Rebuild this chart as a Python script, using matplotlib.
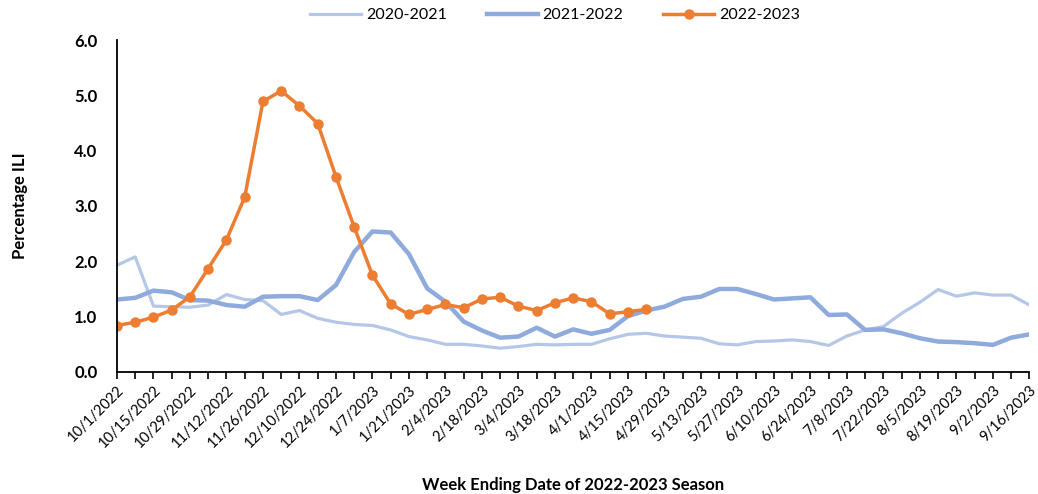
import numpy as np
import pandas as pd
import matplotlib
matplotlib.use("Agg")
import matplotlib.pyplot as plt

plt.rcParams['font.family'] = ['Lato', 'DejaVu Sans']

weeks = pd.date_range("2022-10-01", "2023-09-16", freq="7D")
week_labels = [f"{d.month}/{d.day}/{d.year}" for d in weeks]

ili_2020_2021 = [1.93, 2.08, 1.19, 1.18, 1.17, 1.21, 1.40, 1.31, 1.29, 1.04,
                 1.11, 0.97, 0.90, 0.86, 0.84, 0.76, 0.64, 0.58, 0.50, 0.50,
                 0.47, 0.43, 0.46, 0.50, 0.49, 0.50, 0.50, 0.60, 0.68, 0.70,
                 0.65, 0.63, 0.61, 0.51, 0.49, 0.55, 0.56, 0.58, 0.55, 0.48,
                 0.65, 0.76, 0.82, 1.06, 1.26, 1.49, 1.37, 1.43, 1.39, 1.39,
                 1.21]
ili_2021_2022 = [1.31, 1.34, 1.47, 1.44, 1.30, 1.29, 1.21, 1.18, 1.36, 1.37,
                 1.37, 1.30, 1.57, 2.17, 2.54, 2.52, 2.13, 1.51, 1.27, 0.91,
                 0.75, 0.62, 0.64, 0.80, 0.64, 0.77, 0.69, 0.76, 1.01, 1.11,
                 1.18, 1.32, 1.36, 1.50, 1.50, 1.41, 1.31, 1.33, 1.35, 1.03,
                 1.04, 0.76, 0.77, 0.70, 0.61, 0.55, 0.54, 0.52, 0.49, 0.62,
                 0.68]
ili_2022_2023 = [0.84, 0.90, 0.99, 1.12, 1.36, 1.87, 2.39, 3.16, 4.89, 5.08,
                 4.81, 4.49, 3.53, 2.62, 1.75, 1.23, 1.04, 1.13, 1.22, 1.16,
                 1.32, 1.35, 1.19, 1.11, 1.25, 1.34, 1.27, 1.05, 1.09, 1.13]

fig = plt.figure(figsize=(10.38, 4.94), dpi=100)
ax = fig.add_axes([0.1127, 0.247, 0.879, 0.672])

x = np.arange(len(weeks))
ax.plot(x, ili_2020_2021, color="#B4C7E7", lw=2.3, label="2020-2021")
ax.plot(x, ili_2021_2022, color="#8FAADC", lw=3.2, label="2021-2022")
ax.plot(np.arange(len(ili_2022_2023)), ili_2022_2023, color="#ED7D31", lw=2.5,
        marker="o", markersize=6.5, label="2022-2023")

ax.set_xlim(0, len(weeks) - 1)
ax.set_ylim(0, 6)
ax.set_yticks(np.arange(0, 6.01, 1.0))
ax.set_yticklabels([f"{v:.1f}" for v in np.arange(0, 6.01, 1.0)],
                   fontsize=12, fontweight="bold")
ax.tick_params(axis="y", length=0, pad=14)

ax.set_xticks(x)
ax.set_xticklabels([lab if i % 2 == 0 else "" for i, lab in enumerate(week_labels)],
                   rotation=45, ha="right", rotation_mode="anchor", fontsize=10.5)
ax.tick_params(axis="x", length=5, width=1.2, direction="out", pad=3)

for s in ["top", "right"]:
    ax.spines[s].set_visible(False)
for s in ["left", "bottom"]:
    ax.spines[s].set_linewidth(1.3)
    ax.spines[s].set_color("black")

ax.set_ylabel("Percentage ILI", fontsize=12, fontweight="bold", labelpad=33)
ax.set_xlabel("Week Ending Date of 2022-2023 Season", fontsize=12,
              fontweight="bold", labelpad=19)

ax.legend(loc="lower center", bbox_to_anchor=(0.48, 1.01), ncol=3, frameon=False,
          fontsize=11.5, handlelength=3.2, columnspacing=2.5, handletextpad=0.3)

fig.savefig("out.png", dpi=100)
